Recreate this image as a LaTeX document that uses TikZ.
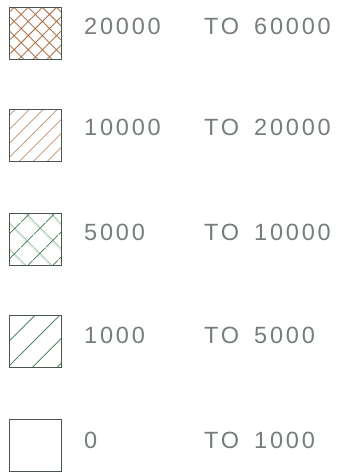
\documentclass[tikz,border=0pt]{standalone}
\usepackage{xcolor}
\usepackage{fontspec}
\usepackage{tikz}
\usetikzlibrary{patterns.meta}
\newfontfamily\legendfont[LetterSpace=12]{Liberation Sans}
\definecolor{hatchbrown}{RGB}{176,120,80}
\definecolor{hatchgreen}{RGB}{80,136,102}
\definecolor{framegray}{RGB}{72,86,76}
\definecolor{textgray}{RGB}{118,126,120}
\tikzset{
  keybox/.style={draw=framegray, line width=0.9pt, minimum size=52pt, inner sep=0pt},
  rangetext/.style={anchor=base west, inner sep=0pt, text=textgray,
    font=\legendfont\fontsize{23.5}{24}\selectfont}
}

\begin{document}
\begin{tikzpicture}[x=1pt, y=-1pt]
\useasboundingbox (0,0) rectangle (346,474);
% 图例方块
\node[keybox, pattern={Hatch[angle=45, distance=10pt, line width=0.9pt]}, pattern color=hatchbrown] (b1) at (35,33) {};
\node[keybox, pattern={Lines[angle=45, distance=10.5pt, line width=0.9pt]}, pattern color=hatchbrown] (b2) at (35,135.5) {};
\node[keybox, pattern={Hatch[angle=45, distance=18.5pt, line width=0.9pt]}, pattern color=hatchgreen] (b3) at (35,239.5) {};
\node[keybox, pattern={Lines[angle=45, distance=17.5pt, line width=0.9pt]}, pattern color=hatchgreen] (b4) at (35,341.5) {};
\node[keybox] (b5) at (35,445) {};
% 数值范围
\node[rangetext] (lo1) at (84,34) {20000};
\node[rangetext] (to1) at (204,34) {TO};
\node[rangetext] (hi1) at (254,34) {60000};
\node[rangetext] (lo2) at (84,135) {10000};
\node[rangetext] (to2) at (204,135) {TO};
\node[rangetext] (hi2) at (254,135) {20000};
\node[rangetext] (lo3) at (84,240) {5000};
\node[rangetext] (to3) at (204,240) {TO};
\node[rangetext] (hi3) at (254,240) {10000};
\node[rangetext] (lo4) at (84,343) {1000};
\node[rangetext] (to4) at (204,343) {TO};
\node[rangetext] (hi4) at (254,343) {5000};
\node[rangetext] (lo5) at (84,448) {0};
\node[rangetext] (to5) at (204,448) {TO};
\node[rangetext] (hi5) at (254,448) {1000};
\end{tikzpicture}
\end{document}
